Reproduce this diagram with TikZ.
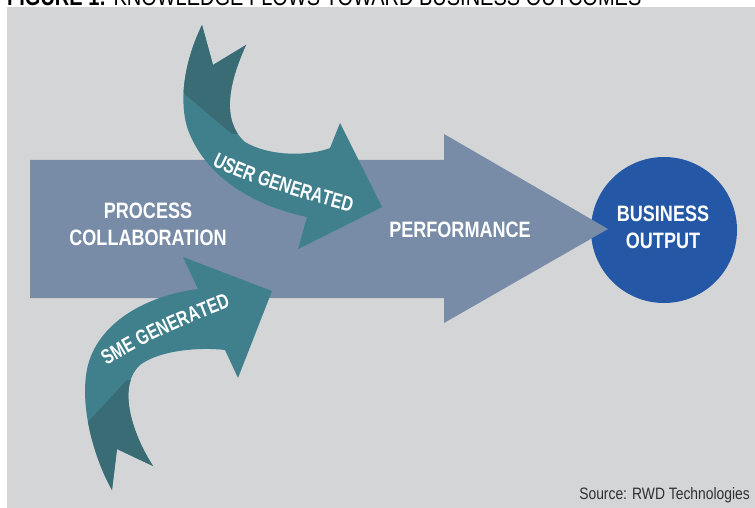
\documentclass[tikz,border=0pt]{standalone}
\usepackage{fontspec}
\usetikzlibrary{decorations.text}

% Condensed sans faces
\newfontfamily\condbold[FakeStretch=0.81]{Liberation Sans Bold}
\newfontfamily\curvebold[FakeStretch=0.75]{Liberation Sans Bold}
\newfontfamily\titlesans[FakeStretch=0.80]{Liberation Sans}
\newfontfamily\notesans[FakeStretch=0.84]{Liberation Sans}
\newcommand\curvelabel{\curvebold\fontsize{21bp}{25bp}\selectfont}

\definecolor{panelgray}{HTML}{D4D5D7}
\definecolor{flowblue}{HTML}{788CA7}
\definecolor{knowteal}{HTML}{40808C}
\definecolor{knowdark}{HTML}{3A6C76}
\definecolor{outblue}{HTML}{2458A6}
\definecolor{notegray}{HTML}{303030}

% Outlines of the two curved knowledge arrows
\newcommand\userflowpath{(202,25) -- (213,65) -- (246,45)
  .. controls (230,80) and (220,120) .. (245,142)
  .. controls (270,157) and (310,156) .. (330,148)
  -- (340,123) -- (382,207) -- (298,249) -- (307,217)
  .. controls (250,205) and (205,175) .. (188,130)
  .. controls (178,100) and (185,60) .. (202,25) -- cycle}
\newcommand\smeflowpath{(272,291) -- (183,257) -- (198,289)
  .. controls (150,295) and (100,320) .. (88,365)
  .. controls (78,405) and (95,460) .. (112,490)
  -- (117,449) -- (153,466)
  .. controls (130,430) and (118,385) .. (140,365)
  .. controls (160,350) and (200,347) .. (225,350)
  -- (238,378) -- cycle}

\begin{document}
\begin{tikzpicture}[x=1bp,y=-1bp,
  flowlabel/.style={text=white, inner sep=0pt, anchor=base,
    font=\condbold\fontsize{22.3bp}{27bp}\selectfont},
  curvetext/.style={decorate, decoration={text along path, text align=left,
      text color=white, text={|\curvelabel|#1}}}]

\clip (0,0) rectangle (755,508);
\fill[white] (0,0) rectangle (755,508);

% heading
\node[anchor=base west, inner sep=0pt, text=black,
  font=\titlesans\fontsize{25bp}{30bp}\selectfont] (title) at (7,6)
  {\textbf{FIGURE 1:} KNOWLEDGE FLOWS TOWARD BUSINESS OUTCOMES};

% panel
\fill[panelgray] (7,7) rectangle (755,508);

% business output disc
\node[circle, fill=outblue, minimum size=146bp, inner sep=0pt] (output) at (664,230) {};

% main flow arrow
\fill[flowblue] (30,160) -- (444,160) -- (444,134) -- (608,229)
  -- (444,323) -- (444,298) -- (30,298) -- cycle;

% user generated arrow
\fill[knowteal] \userflowpath;
\begin{scope}
  \clip \userflowpath;
  \fill[knowdark] (137,54) -- (232,134) -- (262,134) -- (262,0) -- (137,0) -- cycle;
\end{scope}

% SME generated arrow
\fill[knowteal] \smeflowpath;
\begin{scope}
  \clip \smeflowpath;
  \fill[knowdark] (45,468) -- (127,380) -- (170,380) -- (170,520) -- (45,520) -- cycle;
\end{scope}

% labels
\node[flowlabel] (proc1) at (148,219) {PROCESS};
\node[flowlabel] (proc2) at (148,246) {COLLABORATION};
\node[flowlabel] (perf) at (460,238) {PERFORMANCE};
\node[flowlabel] (bus1) at (663,222) {BUSINESS};
\node[flowlabel] (bus2) at (663,249) {OUTPUT};

\path[curvetext={USER GENERATED}]
  (212,165) .. controls (247,183) and (295,197) .. (362,215);
\path[curvetext={SME GENERATED}]
  (107,366) .. controls (145,341) and (195,319) .. (250,300);

% source note
\node[anchor=base east, inner sep=0pt, text=notegray,
  font=\notesans\fontsize{16.5bp}{20bp}\selectfont] (source) at (750,499)
  {Source: RWD Technologies};
\end{tikzpicture}
\end{document}
